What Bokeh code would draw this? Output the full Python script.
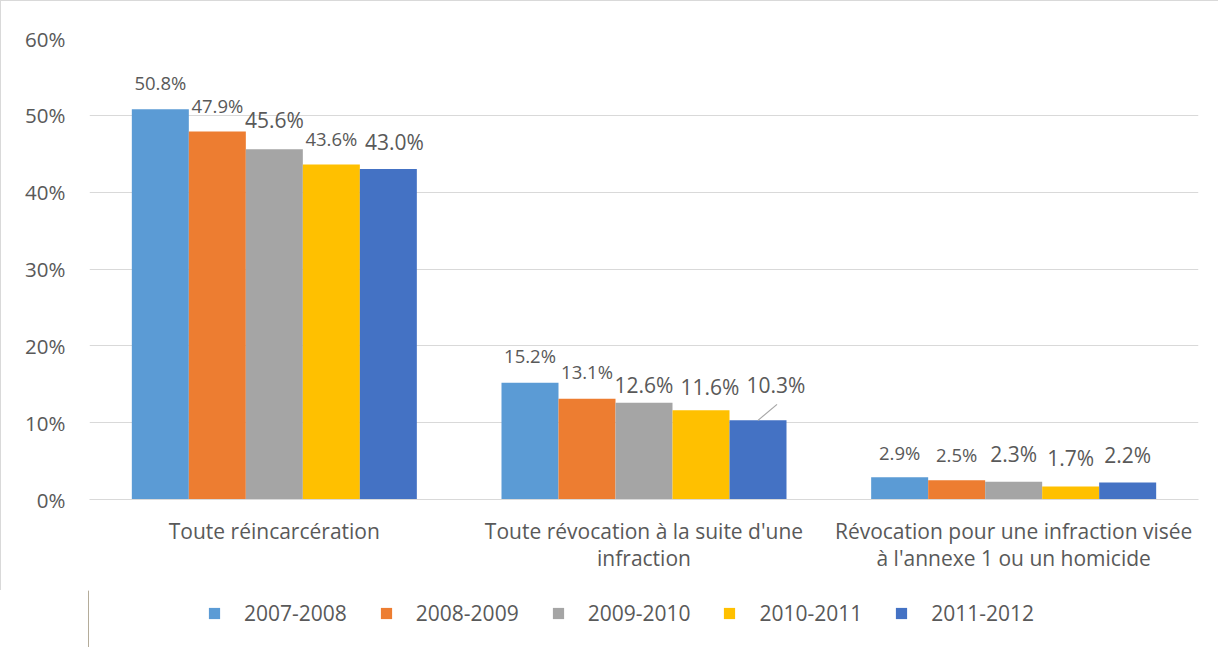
from bokeh.plotting import figure
from bokeh.layouts import column
from bokeh.models import FactorRange, Range1d, Legend, LegendItem, FixedTicker, ColumnDataSource
from bokeh.core.properties import value
from bokeh.embed import file_html
from bokeh.resources import INLINE

categories = [
    "Toute réincarcération",
    "Toute révocation à la suite d'une\ninfraction",
    "Révocation pour une infraction visée\nà l'annexe 1 ou un homicide",
]
years = ["2007-2008", "2008-2009", "2009-2010", "2010-2011", "2011-2012"]
v_2007_2008 = [50.8, 15.2, 2.9]
v_2008_2009 = [47.9, 13.1, 2.5]
v_2009_2010 = [45.6, 12.6, 2.3]
v_2010_2011 = [43.6, 11.6, 1.7]
v_2011_2012 = [43.0, 10.3, 2.2]
series = [v_2007_2008, v_2008_2009, v_2009_2010, v_2010_2011, v_2011_2012]
y_ticks = [0, 10, 20, 30, 40, 50, 60]
y_tick_labels = ["0%", "10%", "20%", "30%", "40%", "50%", "60%"]

colors = ["#5B9BD5", "#ED7D31", "#A5A5A5", "#FFC000", "#4472C4"]
TXT = "#595959"
GRID = "#D9D9D9"
FONT = "Open Sans"

# label styling (per bar, [series][category])
large = [[False, False, False], [False, False, False], [True, True, True],
         [False, True, True], [True, True, True]]
dx_px = [[0, 0, 0], [0, 0, 0], [0, 0, 0], [0, 9, 0], [6, 18, 0]]
dy_px = [[-27, -27, -25], [-26, -27, -26], [-29, -18, -28], [-26, -23, -28], [-27, -35, -28]]

W = 1218
H_MAIN, H_LEG = 590, 57
p = figure(width=W, height=H_MAIN, output_backend="svg", toolbar_location=None,
           x_range=FactorRange(factors=categories, range_padding=0),
           y_range=Range1d(0, 60),
           min_border_left=88, min_border_right=21, min_border_top=37, min_border_bottom=92)
p.styles = {"border-top": "1px solid #D9D9D9", "border-left": "1px solid #D9D9D9"}
p.outline_line_color = None
p.background_fill_color = "white"
p.border_fill_color = "white"

bw = 0.1542
offsets = [(j - 2) * bw for j in range(len(years))]

for j, (vals, col) in enumerate(zip(series, colors)):
    xs = [i + 0.5 + offsets[j] for i in range(len(categories))]
    p.vbar(x=xs, top=vals, width=bw, fill_color=col, line_color=None)
    src = ColumnDataSource(dict(
        x=xs, y=vals, t=[f"{v:.1f}%" for v in vals],
        size=["21px" if large[j][i] else "18.5px" for i in range(len(vals))],
        xo=dx_px[j], yo=dy_px[j]))
    p.text(x="x", y="y", text="t", source=src, text_font_size="size",
           x_offset="xo", y_offset="yo", text_align="center", text_baseline="alphabetic",
           text_color=TXT, text_font=value(FONT))

# leader line for the displaced 10.3% label (pixel lengths converted to data units)
px_per_x = 1109 / 3.0
px_per_y = 461 / 60.0
lx = 1 + 0.5 + offsets[4]
ly = v_2011_2012[1]
p.segment(x0=[lx], y0=[ly], x1=[lx + 19 / px_per_x], y1=[ly + 16 / px_per_y],
          line_color="#A6A6A6", line_width=1.2)

p.xgrid.grid_line_color = None
p.ygrid.grid_line_color = GRID
p.ygrid.ticker = FixedTicker(ticks=y_ticks)

p.yaxis.ticker = FixedTicker(ticks=y_ticks)
p.yaxis.major_label_overrides = {t: l for t, l in zip(y_ticks, y_tick_labels)}
p.yaxis.axis_line_color = None
p.yaxis.major_tick_line_color = None
p.yaxis.minor_tick_line_color = None
p.yaxis.major_label_text_font = FONT
p.yaxis.major_label_text_font_size = "20.5px"
p.yaxis.major_label_text_color = TXT
p.yaxis.major_label_standoff = 18

p.xaxis.axis_line_color = GRID
p.xaxis.major_tick_line_color = None
p.xaxis.minor_tick_line_color = None
p.xaxis.major_label_text_font = FONT
p.xaxis.major_label_text_font_size = "21px"
p.xaxis.major_label_text_line_height = 0.98
p.xaxis.major_label_text_color = TXT
p.xaxis.major_label_standoff = 11

# legend strip below the chart (its frame is aligned with the main frame)
q = figure(width=W, height=H_LEG, output_backend="svg", toolbar_location=None,
           x_range=Range1d(0, 1), y_range=Range1d(0, 1),
           min_border_left=0, min_border_right=0, min_border_top=0, min_border_bottom=0)
q.axis.visible = False
q.grid.grid_line_color = None
q.outline_line_color = None
q.border_fill_color = "white"
q.background_fill_color = "white"
items = []
for yr, col in zip(years, colors):
    r = q.vbar(x=[-5], top=[1], width=0.1, fill_color=col, line_color=None)
    items.append(LegendItem(label=yr, renderers=[r]))
legend = Legend(items=items, orientation="horizontal", location=(119, 20),
                padding=0, margin=0, spacing=32, label_standoff=23,
                glyph_width=14, glyph_height=14,
                label_text_font=FONT, label_text_font_size="21px", label_text_color=TXT,
                border_line_color=None, background_fill_alpha=0)
q.add_layout(legend, "center")

layout = column(p, q, spacing=0)
open("out.html", "w").write(file_html(layout, INLINE))
